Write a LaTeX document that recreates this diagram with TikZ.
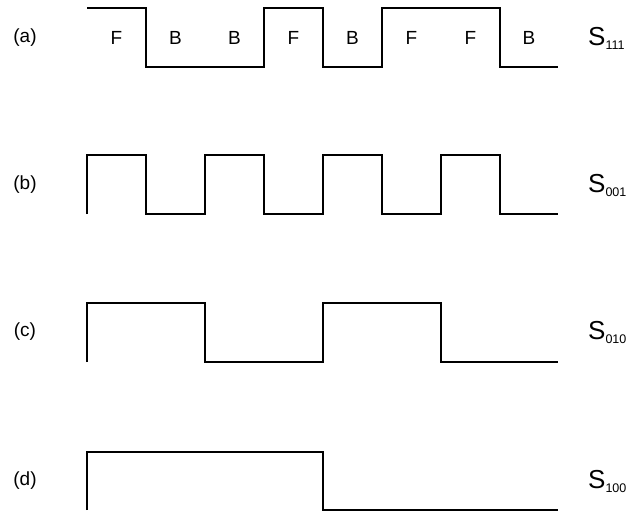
\documentclass[tikz,border=0pt]{standalone}
\usepackage{fontspec}
\setmainfont{Liberation Sans}
\begin{document}
\begin{tikzpicture}[x=1pt,y=-1pt,
  wave/.style={line width=2pt, line join=miter},
  lab/.style={font=\fontsize{19}{21}\selectfont, inner sep=0},
  seg/.style={font=\fontsize{19}{21}\selectfont, inner sep=0},
  sig/.style={font=\fontsize{26}{28}\selectfont, inner sep=0, anchor=west}]
\useasboundingbox (0,0) rectangle (643,514);
\newcommand{\sg}[1]{S\raisebox{-4pt}{\fontsize{12.5}{14}\selectfont #1}}
% row labels
\node[lab] (la) at (25,38) {(a)};
\node[lab] (lb) at (25,185) {(b)};
\node[lab] (lc) at (25,332) {(c)};
\node[lab] (ld) at (25,481) {(d)};
% signal names
\node[sig] (sa) at (588,38) {\sg{111}};
\node[sig] (sb) at (588,185) {\sg{001}};
\node[sig] (sc) at (588,332) {\sg{010}};
\node[sig] (sd) at (588,481) {\sg{100}};
% waveforms
\draw[wave] (87,8) -- (146,8) -- (146,67) -- (264,67) -- (264,8) -- (323,8) -- (323,67) -- (382,67) -- (382,8) -- (500,8) -- (500,67) -- (558,67);
\draw[wave] (87,214) -- (87,155) -- (146,155) -- (146,214) -- (205,214) -- (205,155) -- (264,155) -- (264,214) -- (323,214) -- (323,155) -- (382,155) -- (382,214) -- (441,214) -- (441,155) -- (500,155) -- (500,214) -- (558,214);
\draw[wave] (87,362) -- (87,303) -- (205,303) -- (205,362) -- (323,362) -- (323,303) -- (441,303) -- (441,362) -- (558,362);
\draw[wave] (87,510) -- (87,452) -- (323,452) -- (323,510) -- (558,510);
% F/B labels
\node[seg] (f1) at (116.5,38) {F};
\node[seg] (b1) at (175.5,38) {B};
\node[seg] (b2) at (234.5,38) {B};
\node[seg] (f2) at (293.5,38) {F};
\node[seg] (b3) at (352.5,38) {B};
\node[seg] (f3) at (411.5,38) {F};
\node[seg] (f4) at (470.5,38) {F};
\node[seg] (b4) at (529,38) {B};
\end{tikzpicture}
\end{document}
